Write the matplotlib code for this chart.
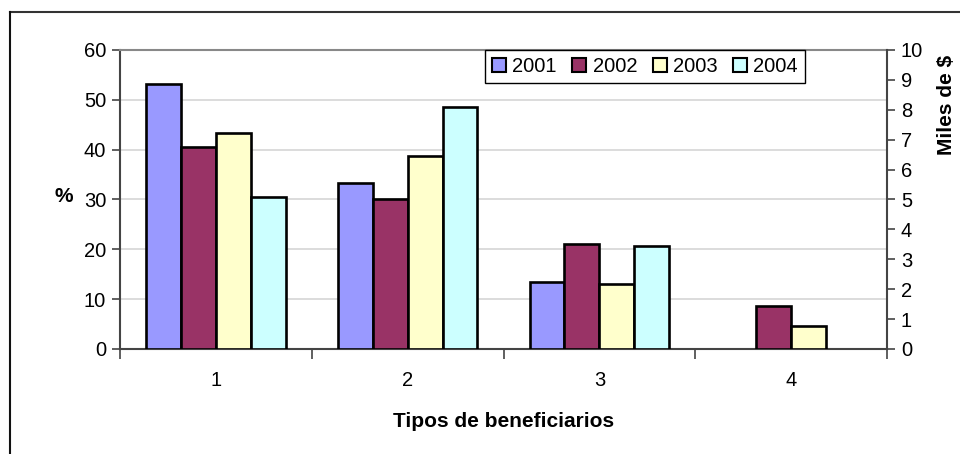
import matplotlib
matplotlib.use("Agg")
import matplotlib.pyplot as plt
import numpy as np
from matplotlib.lines import Line2D
from matplotlib.patches import Patch

plt.rcParams['font.family'] = ['Liberation Sans', 'DejaVu Sans']

categories = ["1", "2", "3", "4"]
years = ["2001", "2002", "2003", "2004"]
v2001 = [53.2, 33.3, 13.4, 0.0]
v2002 = [40.5, 30.0, 21.0, 8.6]
v2003 = [43.3, 38.8, 13.1, 4.7]
v2004 = [30.5, 48.6, 20.7, 0.0]
colors = ["#9999FF", "#993366", "#FFFFCC", "#CCFFFF"]

series = [v2001, v2002, v2003, v2004]

fig = plt.figure(figsize=(9.6, 4.54), dpi=100)
ax = fig.add_axes([0.125, 0.2313, 0.799, 0.6586])

x = np.arange(1, len(categories) + 1)
bw = 0.182
for i, (vals, c) in enumerate(zip(series, colors)):
    pos = x + (i - 1.5) * bw
    vals = np.array(vals)
    mask = vals > 0
    ax.bar(pos[mask], vals[mask], width=bw, color=c, edgecolor="black",
           linewidth=1.9, zorder=3)

ax.set_xlim(0.5, 4.5)
ax.set_ylim(0, 60)
ax.set_yticks(range(0, 61, 10))
ax.yaxis.grid(True, color="#d6d6d6", linewidth=1.2, zorder=0)
ax.set_axisbelow(True)

# category boundaries carry the ticks, labels sit at the centres
ax.set_xticks(np.arange(0.5, 4.6, 1.0))
ax.set_xticklabels([])
ax.set_xticks(x, minor=True)
ax.set_xticklabels(categories, minor=True)
ax.tick_params(axis="x", which="major", direction="out", length=7, width=1.2, color="#444444")
ax.tick_params(axis="x", which="minor", length=0, pad=16, labelsize=14.5)
ax.tick_params(axis="y", direction="out", length=6, width=1.2, color="#444444", labelsize=14.5, pad=4)

for s in ["left", "bottom"]:
    ax.spines[s].set_color("#444444")
    ax.spines[s].set_linewidth(1.5)
ax.spines["top"].set_color("#888888")
ax.spines["top"].set_linewidth(1.5)
ax.spines["right"].set_visible(False)

ax2 = ax.twinx()
ax2.set_ylim(0, 10)
ax2.set_yticks(range(0, 11))
ax2.tick_params(axis="y", direction="out", length=6, width=1.2, color="#444444", labelsize=14.5, pad=4)
for s in ["left", "top", "bottom"]:
    ax2.spines[s].set_visible(False)
ax2.spines["right"].set_color("#444444")
ax2.spines["right"].set_linewidth(1.5)

ax.set_xlabel("Tipos de beneficiarios", fontsize=15, fontweight="bold", labelpad=16)
fig.text(64 / 960, 1 - 197 / 454, "%", fontsize=15, fontweight="bold", ha="center", va="center")
fig.text(947 / 960, 1 - 105 / 454, "Miles de $", fontsize=15, fontweight="bold",
         rotation=90, ha="center", va="center")

handles = [Patch(facecolor=c, edgecolor="black", linewidth=1.5) for c in colors]
leg = fig.legend(handles, years, loc="upper left", bbox_to_anchor=(485 / 960, 1 - 50 / 454),
                 ncol=4, fontsize=14.5, frameon=True, fancybox=False, framealpha=1,
                 edgecolor="black", handlelength=0.7, handleheight=0.7,
                 handletextpad=0.3, columnspacing=0.78, borderpad=0.35, borderaxespad=0)
leg.get_frame().set_linewidth(1.0)

# chart frame edges
fig.add_artist(Line2D([9.5 / 960, 1], [1 - 12 / 454, 1 - 12 / 454], transform=fig.transFigure,
                      color="#333333", linewidth=1.5))
fig.add_artist(Line2D([9.5 / 960, 9.5 / 960], [0, 1 - 12 / 454], transform=fig.transFigure,
                      color="#111111", linewidth=1.5))

fig.savefig("out.png", dpi=100)
